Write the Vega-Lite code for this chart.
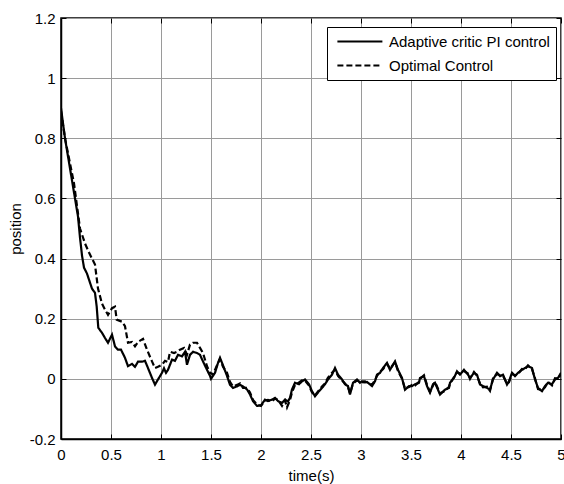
{
  "$schema": "https://vega.github.io/schema/vega-lite/v6.json",
  "width": 500,
  "height": 421,
  "autosize": "none",
  "padding": {"left": 61, "top": 18, "right": 3, "bottom": 45},
  "background": "white",
  "config": {
    "font": "Liberation Sans",
    "view": {"stroke": "black", "strokeWidth": 1.5},
    "axis": {
      "labelFont": "Liberation Sans",
      "titleFont": "Liberation Sans",
      "labelFontSize": 15,
      "titleFontSize": 15,
      "titleFontWeight": "normal",
      "labelColor": "black",
      "titleColor": "black",
      "gridColor": "#9a9a9a",
      "gridOpacity": 1,
      "gridWidth": 1,
      "domainColor": "black",
      "domainWidth": 1.5,
      "tickColor": "black",
      "tickSize": -5,
      "tickWidth": 1
    }
  },
  "data": {
    "values": [
      {"t": 0, "v": 0.9, "s": "Adaptive critic PI control"},
      {"t": 0.02, "v": 0.85, "s": "Adaptive critic PI control"},
      {"t": 0.04, "v": 0.8, "s": "Adaptive critic PI control"},
      {"t": 0.08, "v": 0.72, "s": "Adaptive critic PI control"},
      {"t": 0.11, "v": 0.66, "s": "Adaptive critic PI control"},
      {"t": 0.14, "v": 0.6, "s": "Adaptive critic PI control"},
      {"t": 0.17, "v": 0.54, "s": "Adaptive critic PI control"},
      {"t": 0.19, "v": 0.47, "s": "Adaptive critic PI control"},
      {"t": 0.21, "v": 0.41, "s": "Adaptive critic PI control"},
      {"t": 0.23, "v": 0.37, "s": "Adaptive critic PI control"},
      {"t": 0.26, "v": 0.35, "s": "Adaptive critic PI control"},
      {"t": 0.29, "v": 0.32, "s": "Adaptive critic PI control"},
      {"t": 0.31, "v": 0.3, "s": "Adaptive critic PI control"},
      {"t": 0.34, "v": 0.286, "s": "Adaptive critic PI control"},
      {"t": 0.357, "v": 0.24, "s": "Adaptive critic PI control"},
      {"t": 0.373, "v": 0.17, "s": "Adaptive critic PI control"},
      {"t": 0.41, "v": 0.153, "s": "Adaptive critic PI control"},
      {"t": 0.44, "v": 0.136, "s": "Adaptive critic PI control"},
      {"t": 0.47, "v": 0.12, "s": "Adaptive critic PI control"},
      {"t": 0.51, "v": 0.147, "s": "Adaptive critic PI control"},
      {"t": 0.54, "v": 0.108, "s": "Adaptive critic PI control"},
      {"t": 0.57, "v": 0.097, "s": "Adaptive critic PI control"},
      {"t": 0.6, "v": 0.097, "s": "Adaptive critic PI control"},
      {"t": 0.64, "v": 0.07, "s": "Adaptive critic PI control"},
      {"t": 0.67, "v": 0.042, "s": "Adaptive critic PI control"},
      {"t": 0.71, "v": 0.05, "s": "Adaptive critic PI control"},
      {"t": 0.74, "v": 0.04, "s": "Adaptive critic PI control"},
      {"t": 0.77, "v": 0.057, "s": "Adaptive critic PI control"},
      {"t": 0.81, "v": 0.057, "s": "Adaptive critic PI control"},
      {"t": 0.84, "v": 0.06, "s": "Adaptive critic PI control"},
      {"t": 0.87, "v": 0.036, "s": "Adaptive critic PI control"},
      {"t": 0.91, "v": 0.003, "s": "Adaptive critic PI control"},
      {"t": 0.94, "v": -0.019, "s": "Adaptive critic PI control"},
      {"t": 0.97, "v": -0.002, "s": "Adaptive critic PI control"},
      {"t": 1.01, "v": 0.02, "s": "Adaptive critic PI control"},
      {"t": 1.03, "v": 0.035, "s": "Adaptive critic PI control"},
      {"t": 1.05, "v": 0.02, "s": "Adaptive critic PI control"},
      {"t": 1.07, "v": 0.03, "s": "Adaptive critic PI control"},
      {"t": 1.11, "v": 0.064, "s": "Adaptive critic PI control"},
      {"t": 1.14, "v": 0.06, "s": "Adaptive critic PI control"},
      {"t": 1.17, "v": 0.08, "s": "Adaptive critic PI control"},
      {"t": 1.21, "v": 0.075, "s": "Adaptive critic PI control"},
      {"t": 1.24, "v": 0.09, "s": "Adaptive critic PI control"},
      {"t": 1.26, "v": 0.047, "s": "Adaptive critic PI control"},
      {"t": 1.29, "v": 0.08, "s": "Adaptive critic PI control"},
      {"t": 1.32, "v": 0.09, "s": "Adaptive critic PI control"},
      {"t": 1.36, "v": 0.086, "s": "Adaptive critic PI control"},
      {"t": 1.39, "v": 0.08, "s": "Adaptive critic PI control"},
      {"t": 1.42, "v": 0.058, "s": "Adaptive critic PI control"},
      {"t": 1.46, "v": 0.03, "s": "Adaptive critic PI control"},
      {"t": 1.49, "v": 0.01, "s": "Adaptive critic PI control"},
      {"t": 1.5, "v": 0.0, "s": "Adaptive critic PI control"},
      {"t": 1.54, "v": 0.02, "s": "Adaptive critic PI control"},
      {"t": 1.57, "v": 0.053, "s": "Adaptive critic PI control"},
      {"t": 1.59, "v": 0.07, "s": "Adaptive critic PI control"},
      {"t": 1.62, "v": 0.045, "s": "Adaptive critic PI control"},
      {"t": 1.66, "v": 0.01, "s": "Adaptive critic PI control"},
      {"t": 1.69, "v": -0.02, "s": "Adaptive critic PI control"},
      {"t": 1.72, "v": -0.03, "s": "Adaptive critic PI control"},
      {"t": 1.76, "v": -0.025, "s": "Adaptive critic PI control"},
      {"t": 1.79, "v": -0.02, "s": "Adaptive critic PI control"},
      {"t": 1.82, "v": -0.025, "s": "Adaptive critic PI control"},
      {"t": 1.86, "v": -0.035, "s": "Adaptive critic PI control"},
      {"t": 1.89, "v": -0.052, "s": "Adaptive critic PI control"},
      {"t": 1.92, "v": -0.074, "s": "Adaptive critic PI control"},
      {"t": 1.96, "v": -0.09, "s": "Adaptive critic PI control"},
      {"t": 2.0, "v": -0.088, "s": "Adaptive critic PI control"},
      {"t": 2.04, "v": -0.069, "s": "Adaptive critic PI control"},
      {"t": 2.07, "v": -0.074, "s": "Adaptive critic PI control"},
      {"t": 2.11, "v": -0.069, "s": "Adaptive critic PI control"},
      {"t": 2.14, "v": -0.063, "s": "Adaptive critic PI control"},
      {"t": 2.17, "v": -0.074, "s": "Adaptive critic PI control"},
      {"t": 2.21, "v": -0.08, "s": "Adaptive critic PI control"},
      {"t": 2.24, "v": -0.069, "s": "Adaptive critic PI control"},
      {"t": 2.27, "v": -0.075, "s": "Adaptive critic PI control"},
      {"t": 2.29, "v": -0.063, "s": "Adaptive critic PI control"},
      {"t": 2.31, "v": -0.035, "s": "Adaptive critic PI control"},
      {"t": 2.34, "v": -0.013, "s": "Adaptive critic PI control"},
      {"t": 2.38, "v": -0.018, "s": "Adaptive critic PI control"},
      {"t": 2.41, "v": -0.008, "s": "Adaptive critic PI control"},
      {"t": 2.44, "v": -0.002, "s": "Adaptive critic PI control"},
      {"t": 2.48, "v": -0.018, "s": "Adaptive critic PI control"},
      {"t": 2.51, "v": -0.041, "s": "Adaptive critic PI control"},
      {"t": 2.54, "v": -0.058, "s": "Adaptive critic PI control"},
      {"t": 2.58, "v": -0.041, "s": "Adaptive critic PI control"},
      {"t": 2.61, "v": -0.03, "s": "Adaptive critic PI control"},
      {"t": 2.64, "v": -0.018, "s": "Adaptive critic PI control"},
      {"t": 2.67, "v": -0.002, "s": "Adaptive critic PI control"},
      {"t": 2.71, "v": 0.014, "s": "Adaptive critic PI control"},
      {"t": 2.74, "v": 0.036, "s": "Adaptive critic PI control"},
      {"t": 2.77, "v": 0.014, "s": "Adaptive critic PI control"},
      {"t": 2.81, "v": -0.002, "s": "Adaptive critic PI control"},
      {"t": 2.84, "v": -0.018, "s": "Adaptive critic PI control"},
      {"t": 2.87, "v": -0.024, "s": "Adaptive critic PI control"},
      {"t": 2.89, "v": -0.052, "s": "Adaptive critic PI control"},
      {"t": 2.92, "v": -0.013, "s": "Adaptive critic PI control"},
      {"t": 2.96, "v": -0.002, "s": "Adaptive critic PI control"},
      {"t": 2.99, "v": -0.013, "s": "Adaptive critic PI control"},
      {"t": 3.01, "v": -0.008, "s": "Adaptive critic PI control"},
      {"t": 3.04, "v": -0.008, "s": "Adaptive critic PI control"},
      {"t": 3.07, "v": -0.013, "s": "Adaptive critic PI control"},
      {"t": 3.11, "v": -0.024, "s": "Adaptive critic PI control"},
      {"t": 3.14, "v": -0.008, "s": "Adaptive critic PI control"},
      {"t": 3.16, "v": 0.014, "s": "Adaptive critic PI control"},
      {"t": 3.19, "v": 0.02, "s": "Adaptive critic PI control"},
      {"t": 3.22, "v": 0.036, "s": "Adaptive critic PI control"},
      {"t": 3.26, "v": 0.053, "s": "Adaptive critic PI control"},
      {"t": 3.29, "v": 0.03, "s": "Adaptive critic PI control"},
      {"t": 3.34, "v": 0.058, "s": "Adaptive critic PI control"},
      {"t": 3.37, "v": 0.03, "s": "Adaptive critic PI control"},
      {"t": 3.41, "v": 0.003, "s": "Adaptive critic PI control"},
      {"t": 3.44, "v": -0.036, "s": "Adaptive critic PI control"},
      {"t": 3.48, "v": -0.024, "s": "Adaptive critic PI control"},
      {"t": 3.51, "v": -0.024, "s": "Adaptive critic PI control"},
      {"t": 3.54, "v": -0.018, "s": "Adaptive critic PI control"},
      {"t": 3.58, "v": -0.013, "s": "Adaptive critic PI control"},
      {"t": 3.59, "v": 0.003, "s": "Adaptive critic PI control"},
      {"t": 3.63, "v": 0.009, "s": "Adaptive critic PI control"},
      {"t": 3.66, "v": -0.024, "s": "Adaptive critic PI control"},
      {"t": 3.69, "v": -0.046, "s": "Adaptive critic PI control"},
      {"t": 3.72, "v": -0.018, "s": "Adaptive critic PI control"},
      {"t": 3.74, "v": -0.013, "s": "Adaptive critic PI control"},
      {"t": 3.79, "v": -0.052, "s": "Adaptive critic PI control"},
      {"t": 3.84, "v": -0.036, "s": "Adaptive critic PI control"},
      {"t": 3.88, "v": -0.03, "s": "Adaptive critic PI control"},
      {"t": 3.89, "v": -0.013, "s": "Adaptive critic PI control"},
      {"t": 3.93, "v": 0.003, "s": "Adaptive critic PI control"},
      {"t": 3.96, "v": 0.025, "s": "Adaptive critic PI control"},
      {"t": 3.99, "v": 0.014, "s": "Adaptive critic PI control"},
      {"t": 4.03, "v": 0.03, "s": "Adaptive critic PI control"},
      {"t": 4.07, "v": 0.014, "s": "Adaptive critic PI control"},
      {"t": 4.09, "v": 0.003, "s": "Adaptive critic PI control"},
      {"t": 4.13, "v": 0.02, "s": "Adaptive critic PI control"},
      {"t": 4.16, "v": 0.014, "s": "Adaptive critic PI control"},
      {"t": 4.19, "v": -0.019, "s": "Adaptive critic PI control"},
      {"t": 4.22, "v": -0.024, "s": "Adaptive critic PI control"},
      {"t": 4.26, "v": -0.03, "s": "Adaptive critic PI control"},
      {"t": 4.29, "v": -0.036, "s": "Adaptive critic PI control"},
      {"t": 4.32, "v": -0.002, "s": "Adaptive critic PI control"},
      {"t": 4.36, "v": 0.02, "s": "Adaptive critic PI control"},
      {"t": 4.39, "v": 0.009, "s": "Adaptive critic PI control"},
      {"t": 4.42, "v": 0.014, "s": "Adaptive critic PI control"},
      {"t": 4.46, "v": -0.019, "s": "Adaptive critic PI control"},
      {"t": 4.48, "v": -0.008, "s": "Adaptive critic PI control"},
      {"t": 4.51, "v": 0.02, "s": "Adaptive critic PI control"},
      {"t": 4.54, "v": 0.009, "s": "Adaptive critic PI control"},
      {"t": 4.57, "v": 0.02, "s": "Adaptive critic PI control"},
      {"t": 4.61, "v": 0.03, "s": "Adaptive critic PI control"},
      {"t": 4.64, "v": 0.036, "s": "Adaptive critic PI control"},
      {"t": 4.67, "v": 0.042, "s": "Adaptive critic PI control"},
      {"t": 4.71, "v": 0.036, "s": "Adaptive critic PI control"},
      {"t": 4.74, "v": -0.002, "s": "Adaptive critic PI control"},
      {"t": 4.77, "v": -0.03, "s": "Adaptive critic PI control"},
      {"t": 4.81, "v": -0.041, "s": "Adaptive critic PI control"},
      {"t": 4.84, "v": -0.024, "s": "Adaptive critic PI control"},
      {"t": 4.87, "v": -0.013, "s": "Adaptive critic PI control"},
      {"t": 4.91, "v": -0.018, "s": "Adaptive critic PI control"},
      {"t": 4.94, "v": -0.002, "s": "Adaptive critic PI control"},
      {"t": 4.97, "v": 0.003, "s": "Adaptive critic PI control"},
      {"t": 5.0, "v": 0.02, "s": "Adaptive critic PI control"},

      {"t": 0, "v": 0.89, "s": "Optimal Control"},
      {"t": 0.04, "v": 0.8, "s": "Optimal Control"},
      {"t": 0.07, "v": 0.75, "s": "Optimal Control"},
      {"t": 0.1, "v": 0.7, "s": "Optimal Control"},
      {"t": 0.13, "v": 0.65, "s": "Optimal Control"},
      {"t": 0.15, "v": 0.6, "s": "Optimal Control"},
      {"t": 0.17, "v": 0.55, "s": "Optimal Control"},
      {"t": 0.19, "v": 0.5, "s": "Optimal Control"},
      {"t": 0.22, "v": 0.47, "s": "Optimal Control"},
      {"t": 0.24, "v": 0.45, "s": "Optimal Control"},
      {"t": 0.28, "v": 0.42, "s": "Optimal Control"},
      {"t": 0.31, "v": 0.4, "s": "Optimal Control"},
      {"t": 0.34, "v": 0.38, "s": "Optimal Control"},
      {"t": 0.37, "v": 0.3, "s": "Optimal Control"},
      {"t": 0.41, "v": 0.25, "s": "Optimal Control"},
      {"t": 0.44, "v": 0.23, "s": "Optimal Control"},
      {"t": 0.47, "v": 0.213, "s": "Optimal Control"},
      {"t": 0.51, "v": 0.235, "s": "Optimal Control"},
      {"t": 0.54, "v": 0.24, "s": "Optimal Control"},
      {"t": 0.557, "v": 0.197, "s": "Optimal Control"},
      {"t": 0.61, "v": 0.19, "s": "Optimal Control"},
      {"t": 0.64, "v": 0.175, "s": "Optimal Control"},
      {"t": 0.67, "v": 0.12, "s": "Optimal Control"},
      {"t": 0.71, "v": 0.123, "s": "Optimal Control"},
      {"t": 0.74, "v": 0.108, "s": "Optimal Control"},
      {"t": 0.77, "v": 0.123, "s": "Optimal Control"},
      {"t": 0.82, "v": 0.133, "s": "Optimal Control"},
      {"t": 0.86, "v": 0.097, "s": "Optimal Control"},
      {"t": 0.91, "v": 0.058, "s": "Optimal Control"},
      {"t": 0.94, "v": 0.036, "s": "Optimal Control"},
      {"t": 0.97, "v": 0.04, "s": "Optimal Control"},
      {"t": 1.01, "v": 0.047, "s": "Optimal Control"},
      {"t": 1.04, "v": 0.06, "s": "Optimal Control"},
      {"t": 1.07, "v": 0.056, "s": "Optimal Control"},
      {"t": 1.09, "v": 0.09, "s": "Optimal Control"},
      {"t": 1.13, "v": 0.086, "s": "Optimal Control"},
      {"t": 1.16, "v": 0.09, "s": "Optimal Control"},
      {"t": 1.19, "v": 0.097, "s": "Optimal Control"},
      {"t": 1.23, "v": 0.103, "s": "Optimal Control"},
      {"t": 1.26, "v": 0.08, "s": "Optimal Control"},
      {"t": 1.29, "v": 0.114, "s": "Optimal Control"},
      {"t": 1.32, "v": 0.12, "s": "Optimal Control"},
      {"t": 1.36, "v": 0.12, "s": "Optimal Control"},
      {"t": 1.39, "v": 0.103, "s": "Optimal Control"},
      {"t": 1.42, "v": 0.086, "s": "Optimal Control"},
      {"t": 1.46, "v": 0.042, "s": "Optimal Control"},
      {"t": 1.49, "v": 0.02, "s": "Optimal Control"},
      {"t": 1.52, "v": 0.015, "s": "Optimal Control"},
      {"t": 1.56, "v": 0.045, "s": "Optimal Control"},
      {"t": 1.59, "v": 0.066, "s": "Optimal Control"},
      {"t": 1.62, "v": 0.04, "s": "Optimal Control"},
      {"t": 1.66, "v": 0.02, "s": "Optimal Control"},
      {"t": 1.69, "v": -0.01, "s": "Optimal Control"},
      {"t": 1.72, "v": -0.025, "s": "Optimal Control"},
      {"t": 1.76, "v": -0.02, "s": "Optimal Control"},
      {"t": 1.79, "v": -0.015, "s": "Optimal Control"},
      {"t": 1.82, "v": -0.03, "s": "Optimal Control"},
      {"t": 1.86, "v": -0.03, "s": "Optimal Control"},
      {"t": 1.89, "v": -0.045, "s": "Optimal Control"},
      {"t": 1.92, "v": -0.07, "s": "Optimal Control"},
      {"t": 1.96, "v": -0.085, "s": "Optimal Control"},
      {"t": 2.0, "v": -0.09, "s": "Optimal Control"},
      {"t": 2.04, "v": -0.072, "s": "Optimal Control"},
      {"t": 2.07, "v": -0.07, "s": "Optimal Control"},
      {"t": 2.11, "v": -0.075, "s": "Optimal Control"},
      {"t": 2.14, "v": -0.065, "s": "Optimal Control"},
      {"t": 2.17, "v": -0.07, "s": "Optimal Control"},
      {"t": 2.21, "v": -0.09, "s": "Optimal Control"},
      {"t": 2.24, "v": -0.072, "s": "Optimal Control"},
      {"t": 2.26, "v": -0.095, "s": "Optimal Control"},
      {"t": 2.29, "v": -0.07, "s": "Optimal Control"},
      {"t": 2.31, "v": -0.045, "s": "Optimal Control"},
      {"t": 2.34, "v": -0.02, "s": "Optimal Control"},
      {"t": 2.38, "v": -0.012, "s": "Optimal Control"},
      {"t": 2.41, "v": -0.005, "s": "Optimal Control"},
      {"t": 2.44, "v": -0.006, "s": "Optimal Control"},
      {"t": 2.48, "v": -0.022, "s": "Optimal Control"},
      {"t": 2.51, "v": -0.045, "s": "Optimal Control"},
      {"t": 2.54, "v": -0.055, "s": "Optimal Control"},
      {"t": 2.58, "v": -0.038, "s": "Optimal Control"},
      {"t": 2.61, "v": -0.025, "s": "Optimal Control"},
      {"t": 2.64, "v": -0.015, "s": "Optimal Control"},
      {"t": 2.67, "v": 0.004, "s": "Optimal Control"},
      {"t": 2.71, "v": 0.02, "s": "Optimal Control"},
      {"t": 2.74, "v": 0.03, "s": "Optimal Control"},
      {"t": 2.77, "v": 0.01, "s": "Optimal Control"},
      {"t": 2.81, "v": -0.005, "s": "Optimal Control"},
      {"t": 2.84, "v": -0.015, "s": "Optimal Control"},
      {"t": 2.87, "v": -0.028, "s": "Optimal Control"},
      {"t": 2.89, "v": -0.048, "s": "Optimal Control"},
      {"t": 2.92, "v": -0.016, "s": "Optimal Control"},
      {"t": 2.96, "v": -0.005, "s": "Optimal Control"},
      {"t": 2.99, "v": -0.01, "s": "Optimal Control"},
      {"t": 3.04, "v": -0.012, "s": "Optimal Control"},
      {"t": 3.07, "v": -0.01, "s": "Optimal Control"},
      {"t": 3.11, "v": -0.02, "s": "Optimal Control"},
      {"t": 3.14, "v": -0.004, "s": "Optimal Control"},
      {"t": 3.16, "v": 0.01, "s": "Optimal Control"},
      {"t": 3.19, "v": 0.024, "s": "Optimal Control"},
      {"t": 3.22, "v": 0.032, "s": "Optimal Control"},
      {"t": 3.26, "v": 0.05, "s": "Optimal Control"},
      {"t": 3.29, "v": 0.034, "s": "Optimal Control"},
      {"t": 3.34, "v": 0.055, "s": "Optimal Control"},
      {"t": 3.37, "v": 0.026, "s": "Optimal Control"},
      {"t": 3.41, "v": 0.0, "s": "Optimal Control"},
      {"t": 3.44, "v": -0.032, "s": "Optimal Control"},
      {"t": 3.48, "v": -0.027, "s": "Optimal Control"},
      {"t": 3.51, "v": -0.02, "s": "Optimal Control"},
      {"t": 3.54, "v": -0.022, "s": "Optimal Control"},
      {"t": 3.58, "v": -0.01, "s": "Optimal Control"},
      {"t": 3.59, "v": 0.0, "s": "Optimal Control"},
      {"t": 3.63, "v": 0.012, "s": "Optimal Control"},
      {"t": 3.66, "v": -0.02, "s": "Optimal Control"},
      {"t": 3.69, "v": -0.043, "s": "Optimal Control"},
      {"t": 3.72, "v": -0.022, "s": "Optimal Control"},
      {"t": 3.74, "v": -0.01, "s": "Optimal Control"},
      {"t": 3.79, "v": -0.048, "s": "Optimal Control"},
      {"t": 3.84, "v": -0.04, "s": "Optimal Control"},
      {"t": 3.88, "v": -0.026, "s": "Optimal Control"},
      {"t": 3.89, "v": -0.016, "s": "Optimal Control"},
      {"t": 3.93, "v": 0.006, "s": "Optimal Control"},
      {"t": 3.96, "v": 0.022, "s": "Optimal Control"},
      {"t": 3.99, "v": 0.018, "s": "Optimal Control"},
      {"t": 4.03, "v": 0.026, "s": "Optimal Control"},
      {"t": 4.07, "v": 0.018, "s": "Optimal Control"},
      {"t": 4.09, "v": 0.0, "s": "Optimal Control"},
      {"t": 4.13, "v": 0.023, "s": "Optimal Control"},
      {"t": 4.16, "v": 0.01, "s": "Optimal Control"},
      {"t": 4.19, "v": -0.015, "s": "Optimal Control"},
      {"t": 4.22, "v": -0.028, "s": "Optimal Control"},
      {"t": 4.26, "v": -0.026, "s": "Optimal Control"},
      {"t": 4.29, "v": -0.04, "s": "Optimal Control"},
      {"t": 4.32, "v": 0.002, "s": "Optimal Control"},
      {"t": 4.36, "v": 0.016, "s": "Optimal Control"},
      {"t": 4.39, "v": 0.012, "s": "Optimal Control"},
      {"t": 4.42, "v": 0.01, "s": "Optimal Control"},
      {"t": 4.46, "v": -0.015, "s": "Optimal Control"},
      {"t": 4.48, "v": -0.011, "s": "Optimal Control"},
      {"t": 4.51, "v": 0.016, "s": "Optimal Control"},
      {"t": 4.54, "v": 0.012, "s": "Optimal Control"},
      {"t": 4.57, "v": 0.016, "s": "Optimal Control"},
      {"t": 4.61, "v": 0.033, "s": "Optimal Control"},
      {"t": 4.64, "v": 0.032, "s": "Optimal Control"},
      {"t": 4.67, "v": 0.045, "s": "Optimal Control"},
      {"t": 4.71, "v": 0.032, "s": "Optimal Control"},
      {"t": 4.74, "v": 0.002, "s": "Optimal Control"},
      {"t": 4.77, "v": -0.034, "s": "Optimal Control"},
      {"t": 4.81, "v": -0.037, "s": "Optimal Control"},
      {"t": 4.84, "v": -0.028, "s": "Optimal Control"},
      {"t": 4.87, "v": -0.01, "s": "Optimal Control"},
      {"t": 4.91, "v": -0.022, "s": "Optimal Control"},
      {"t": 4.94, "v": 0.002, "s": "Optimal Control"},
      {"t": 4.97, "v": 0.0, "s": "Optimal Control"},
      {"t": 5.0, "v": 0.016, "s": "Optimal Control"}
    ]
  },
  "layer": [
    {
      "mark": {"type": "line", "color": "black", "strokeWidth": 2.2, "clip": true},
      "encoding": {
        "x": {
          "field": "t",
          "type": "quantitative",
          "scale": {"domain": [0, 5], "nice": false, "zero": false},
          "axis": {
            "title": "time(s)",
            "values": [0, 0.5, 1, 1.5, 2, 2.5, 3, 3.5, 4, 4.5, 5],
            "labelExpr": "'' + datum.value",
            "labelPadding": 13,
            "titlePadding": 6,
            "labelFlush": false,
            "labelOverlap": false
          }
        },
        "y": {
          "field": "v",
          "type": "quantitative",
          "scale": {"domain": [-0.2, 1.2], "nice": false, "zero": false},
          "axis": {
            "title": "position",
            "values": [-0.2, 0, 0.2, 0.4, 0.6, 0.8, 1, 1.2],
            "labelExpr": "'' + datum.value",
            "labelPadding": 11,
            "titlePadding": 6,
            "labelFlush": false,
            "labelOverlap": false
          }
        },
        "strokeDash": {
          "field": "s",
          "type": "nominal",
          "scale": {
            "domain": ["Adaptive critic PI control", "Optimal Control"],
            "range": [[1, 0], [6, 3]]
          },
          "legend": {
            "title": null,
            "orient": "none",
            "legendX": 266,
            "legendY": 9,
            "direction": "vertical",
            "fillColor": "white",
            "strokeColor": "black",
            "padding": 6,
            "labelFontSize": 15,
            "labelFont": "Liberation Sans",
            "labelColor": "black",
            "labelOffset": 39,
            "symbolType": "M-0.547,0H5.453",
            "symbolStrokeColor": "black",
            "symbolStrokeWidth": 2,
            "symbolSize": 225,
            "rowPadding": 7,
            "labelLimit": 300
          }
        }
      }
    },
    {
      "mark": {"type": "line", "opacity": 0, "clip": true},
      "encoding": {
        "x": {
          "field": "t",
          "type": "quantitative",
          "scale": {"domain": [0, 5], "nice": false, "zero": false},
          "axis": {
            "orient": "top",
            "title": null,
            "labels": false,
            "grid": false,
            "domain": false,
            "values": [0, 0.5, 1, 1.5, 2, 2.5, 3, 3.5, 4, 4.5, 5]
          }
        },
        "y": {
          "field": "v",
          "type": "quantitative",
          "scale": {"domain": [-0.2, 1.2], "nice": false, "zero": false},
          "axis": {
            "orient": "right",
            "title": null,
            "labels": false,
            "grid": false,
            "domain": false,
            "values": [-0.2, 0, 0.2, 0.4, 0.6, 0.8, 1, 1.2]
          }
        }
      }
    }
  ],
  "resolve": {"axis": {"x": "independent", "y": "independent"}}
}
